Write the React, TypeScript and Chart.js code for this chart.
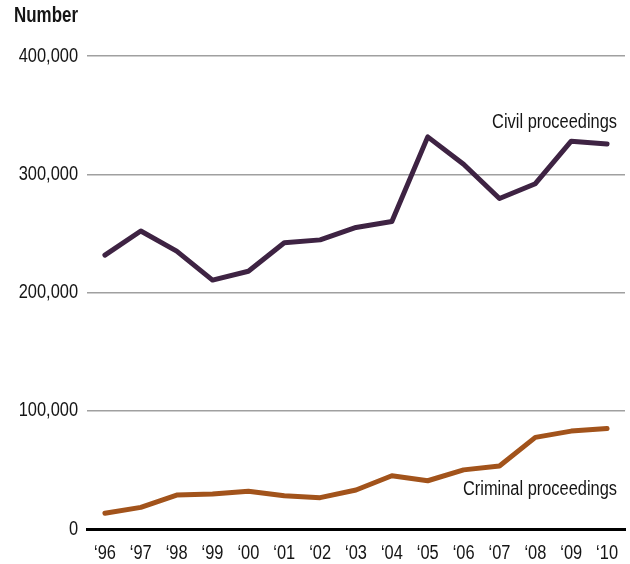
import React, { useEffect, useRef } from "react";
import { Chart, registerables } from "chart.js";

Chart.register(...registerables);

const years = ["\u201896", "\u201897", "\u201898", "\u201899", "\u201800", "\u201801", "\u201802", "\u201803", "\u201804", "\u201805", "\u201806", "\u201807", "\u201808", "\u201809", "\u201810"];
const civil = [231600, 252000, 235000, 210500, 218000, 242000, 244500, 255000, 260000, 331600, 308500, 279500, 292000, 328000, 325500];
const criminal = [13300, 18300, 28700, 29600, 32000, 28200, 26500, 33000, 45000, 40800, 50000, 53300, 77500, 82800, 85000];
const yTicks = [0, 100000, 200000, 300000, 400000];

const FONT = "'Liberation Sans', Arial, sans-serif";
const SQUEEZE = 0.82;

function drawText(ctx: CanvasRenderingContext2D, text: string, x: number, y: number, align: CanvasTextAlign, font: string, squeeze = SQUEEZE) {
  ctx.save();
  ctx.translate(x, y);
  ctx.scale(squeeze, 1);
  ctx.font = font;
  ctx.textAlign = align;
  ctx.textBaseline = "middle";
  ctx.fillStyle = "#151515";
  ctx.fillText(text, 0, 0);
  ctx.restore();
}

const labelsPlugin = {
  id: "labels",
  afterDraw(chart: any) {
    const ctx = chart.ctx;
    const area = chart.chartArea;
    const y = chart.scales.y;
    const x = chart.scales.x;
    const f = `20px ${FONT}`;
    drawText(ctx, "Number", 14, 16, "left", `bold 22px ${FONT}`, 0.77);
    yTicks.forEach((v) => {
      drawText(ctx, v.toLocaleString("en-US"), area.left - 9, y.getPixelForValue(v), "right", f);
    });
    years.forEach((lab, i) => {
      drawText(ctx, lab, x.getPixelForValue(i), area.bottom + 24, "center", f);
    });
    drawText(ctx, "Civil proceedings", area.right - 8, y.getPixelForValue(343500), "right", f);
    drawText(ctx, "Criminal proceedings", area.right - 8, y.getPixelForValue(33000), "right", f);
  },
};

export default function App() {
  const ref = useRef<HTMLCanvasElement>(null);
  useEffect(() => {
    const chart = new Chart(ref.current!, {
      type: "line",
      data: {
        labels: years,
        datasets: [
          { label: "Civil proceedings", data: civil, borderColor: "#3e2343", borderWidth: 5, pointRadius: 0, tension: 0, borderCapStyle: "round", borderJoinStyle: "round" },
          { label: "Criminal proceedings", data: criminal, borderColor: "#a2531b", borderWidth: 5, pointRadius: 0, tension: 0, borderCapStyle: "round", borderJoinStyle: "round" },
        ],
      },
      options: {
        animation: false,
        responsive: false,
        layout: { padding: { top: 56, right: 5, left: 0, bottom: 0 } },
        plugins: { legend: { display: false }, tooltip: { enabled: false } },
        scales: {
          x: {
            offset: true,
            grid: { display: false, drawTicks: false },
            border: { display: true, color: "#000", width: 3 },
            ticks: { color: "rgba(0,0,0,0)", font: { family: FONT, size: 18 }, padding: 8, maxRotation: 0, autoSkip: false },
            afterFit: (s: any) => { s.height = 35; },
          },
          y: {
            min: 0,
            max: 400000,
            afterBuildTicks: (s: any) => { s.ticks = yTicks.map((v) => ({ value: v })); },
            grid: {
              drawTicks: false,
              color: (c: any) => (c.tick && c.tick.value === 0 ? "rgba(0,0,0,0)" : "#a0a0a0"),
              lineWidth: 1.5,
            },
            border: { display: false },
            ticks: {
              color: "rgba(0,0,0,0)",
              font: { family: FONT, size: 18 },
              padding: 9,
              callback: (v: any) => Number(v).toLocaleString("en-US"),
            },
            afterFit: (s: any) => { s.width = 87; },
          },
        },
      },
      plugins: [labelsPlugin],
    });
    return () => chart.destroy();
  }, []);
  return (
    <div style={{ position: "fixed", left: 0, top: 0, width: 630, height: 564, background: "#fff" }}>
      <canvas ref={ref} width={630} height={564} style={{ width: 630, height: 564 }} />
    </div>
  );
}
